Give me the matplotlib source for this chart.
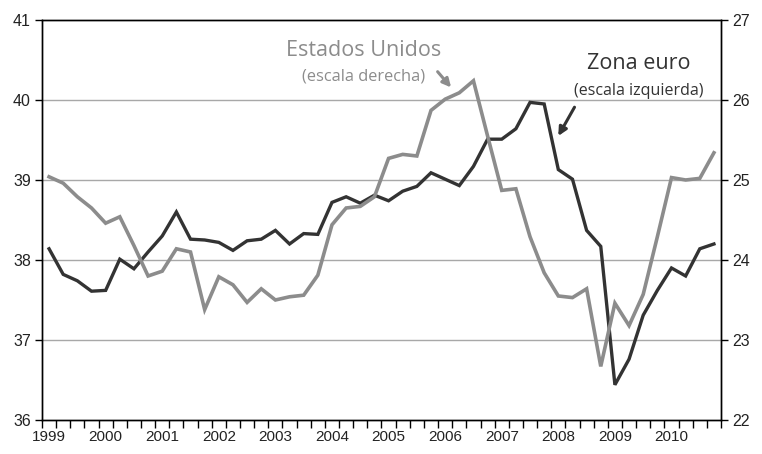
import numpy as np
import matplotlib
matplotlib.use("Agg")
import matplotlib.pyplot as plt

# quarterly series, 1999Q1 - 2010Q4
years = [str(y) for y in range(1999, 2011)]
zona_euro = [38.14, 37.82, 37.74, 37.61, 37.62, 38.01, 37.89, 38.10,
             38.30, 38.60, 38.26, 38.25, 38.22, 38.12, 38.24, 38.26,
             38.37, 38.20, 38.33, 38.32, 38.72, 38.79, 38.71, 38.81,
             38.74, 38.86, 38.92, 39.09, 39.01, 38.93, 39.17, 39.51,
             39.51, 39.64, 39.97, 39.95, 39.13, 39.01, 38.37, 38.17,
             36.44, 36.76, 37.31, 37.62, 37.90, 37.80, 38.14, 38.20]
estados_unidos = [25.04, 24.96, 24.79, 24.65, 24.46, 24.54, 24.18, 23.80,
                  23.86, 24.14, 24.10, 23.38, 23.79, 23.69, 23.47, 23.64,
                  23.50, 23.54, 23.56, 23.81, 24.44, 24.65, 24.67, 24.79,
                  25.27, 25.32, 25.30, 25.87, 26.01, 26.09, 26.24, 25.55,
                  24.87, 24.89, 24.29, 23.84, 23.55, 23.53, 23.64, 22.67,
                  23.46, 23.18, 23.57, 24.29, 25.03, 25.00, 25.02, 25.34]

x = np.arange(len(zona_euro))

fig = plt.figure(figsize=(7.62, 4.54), dpi=100)
ax = fig.add_axes([0.0551, 0.0749, 0.8911, 0.8811])
ax2 = ax.twinx()

ax.plot(x, zona_euro, color="#333333", lw=2.4, solid_joinstyle="miter")
ax2.plot(x, estados_unidos, color="#8c8c8c", lw=2.6, solid_joinstyle="miter")

ax.set_xlim(-0.5, len(x) - 0.5)
ax.set_ylim(36, 41)
ax2.set_ylim(22, 27)
ax.set_yticks(range(36, 42))
ax2.set_yticks(range(22, 28))

for v in range(37, 41):
    ax.axhline(v, color="#a8a8a8", lw=1.0, zorder=0)

ax.set_xticks(np.arange(0, len(x), 4))
ax.set_xticklabels(years)
ax.set_xticks(np.arange(-0.5, len(x), 1), minor=True)
ax.tick_params(axis="x", which="major", length=0, pad=7, labelsize=11)
ax.tick_params(axis="x", which="minor", length=6, width=1, direction="out")
ax.tick_params(axis="y", length=5, width=1, labelsize=11.5, pad=3)
ax2.tick_params(axis="y", length=5, width=1, labelsize=11.5, pad=3)

for a in (ax, ax2):
    for s in a.spines.values():
        s.set_linewidth(1.0)
        s.set_color("black")
    for lab in a.get_yticklabels() + a.get_xticklabels():
        lab.set_fontfamily("Liberation Sans")
        lab.set_color("#222222")

ax2.text(22.25, 26.62, "Estados Unidos", color="#8c8c8c", fontsize=15.5,
         family="Open Sans", ha="center", va="center")
ax2.text(22.25, 26.29, "(escala derecha)", color="#8c8c8c", fontsize=11.8,
         family="Open Sans", ha="center", va="center")
ax2.annotate("", xy=(28.55, 26.13), xytext=(27.34, 26.38),
             arrowprops=dict(arrowstyle="-|>,head_length=0.5,head_width=0.25",
                             color="#8c8c8c", lw=2.2))

ax2.text(41.7, 26.45, "Zona euro", color="#333333", fontsize=15.5,
         family="Open Sans", ha="center", va="center")
ax2.text(41.7, 26.11, "(escala izquierda)", color="#333333", fontsize=11.5,
         family="Open Sans", ha="center", va="center")
ax2.annotate("", xy=(35.9, 25.52), xytext=(37.24, 25.94),
             arrowprops=dict(arrowstyle="-|>,head_length=0.5,head_width=0.25",
                             color="#333333", lw=2.2))

fig.savefig("out.png", dpi=100)
